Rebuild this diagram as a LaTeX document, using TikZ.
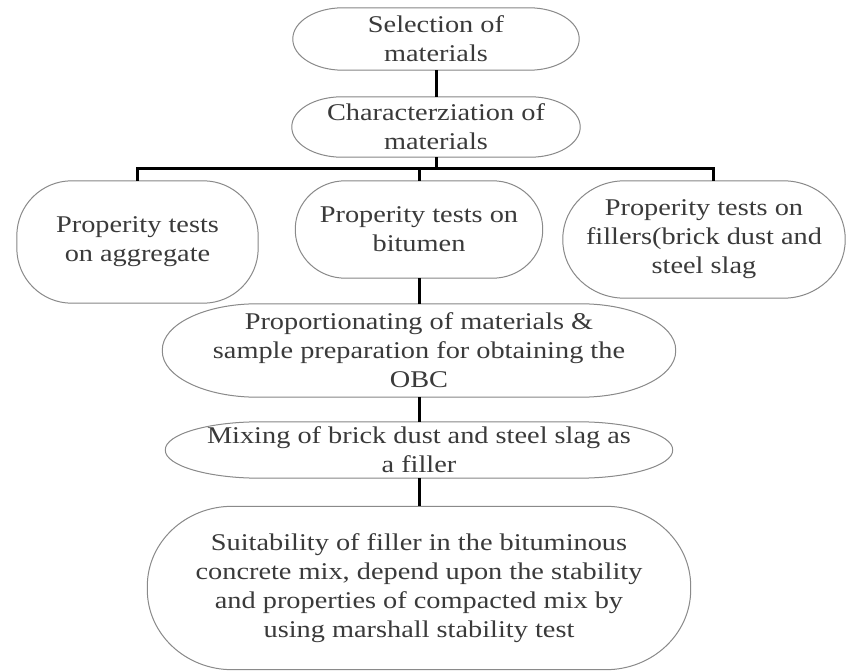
\documentclass[tikz,border=0pt]{standalone}
\usepackage{fontspec}
\setmainfont{Liberation Serif}[FakeStretch=1.18]
\usetikzlibrary{backgrounds}
\definecolor{txt}{HTML}{3A3A3A}
\definecolor{bord}{HTML}{8A8A8A}
\definecolor{shd}{HTML}{B0B0B0}
\tikzset{
  box/.style={inner sep=0pt, align=center, text=txt, font=\fontsize{24}{29}\selectfont},
  conn/.style={line width=3pt, black},
}
% outline path around a node with elliptic corners
\newcommand\outl[3]{([xshift=#2pt]#1.north west) -- ([xshift=-#2pt]#1.north east)
  arc[start angle=90, end angle=0, x radius=#2pt, y radius=#3pt]
  -- ([yshift=#3pt]#1.south east)
  arc[start angle=0, end angle=-90, x radius=#2pt, y radius=#3pt]
  -- ([xshift=#2pt]#1.south west)
  arc[start angle=-90, end angle=-180, x radius=#2pt, y radius=#3pt]
  -- ([yshift=-#3pt]#1.north west)
  arc[start angle=180, end angle=90, x radius=#2pt, y radius=#3pt] -- cycle}
\newcommand\rbox[3]{%
  \fill[shd, shift={(1.5pt,-2pt)}] \outl{#1}{#2}{#3};
  \fill[white] \outl{#1}{#2}{#3};
  \draw[bord, line width=1pt] \outl{#1}{#2}{#3};}
\begin{document}
\begin{tikzpicture}[x=1pt, y=-1pt]
\useasboundingbox (0,0) rectangle (847,671);
\node[box, minimum width=286pt, minimum height=62pt] (n1) at (436,39) {Selection of\\materials};
\node[box, minimum width=288pt, minimum height=60pt] (n2) at (436,127) {Characterziation of\\materials};
\node[box, minimum width=241pt, minimum height=122pt] (n3) at (137.5,242) {Properity tests\\on aggregate};
\node[box, minimum width=247pt, minimum height=97pt] (n4) at (419,229.5) {Properity tests on\\bitumen};
\node[box, minimum width=282pt, minimum height=117pt] (n5) at (704,239.5) {Properity tests on\\fillers(brick dust and\\steel slag};
\node[box, minimum width=513pt, minimum height=93pt] (n6) at (419,350.5) {Proportionating of materials \&\\sample preparation for obtaining the\\OBC};
\node[box, minimum width=507pt, minimum height=56pt] (n7) at (419,450) {Mixing of brick dust and steel slag as\\a filler};
\node[box, minimum width=543pt, minimum height=163pt] (n8) at (419,588) {Suitability of filler in the bituminous\\concrete mix, depend upon the stability\\and properties of compacted mix by\\using marshall stability test};
\begin{scope}[on background layer]
  \rbox{n1}{50}{31}
  \rbox{n2}{50}{30}
  \rbox{n3}{55}{55}
  \rbox{n4}{50}{48}
  \rbox{n5}{62}{58}
  \rbox{n6}{95}{46}
  \rbox{n7}{95}{28}
  \rbox{n8}{85}{80}
\end{scope}
\coordinate (bus) at (0,169);
\coordinate (d5) at (713,181);
\draw[conn] (n1.south) -- (n2.north);
\draw[conn] (n2.south) -- (n2.south |- bus);
\draw[conn] (n3.north) -- (n3.north |- bus) -- (d5 |- bus) -- (d5);
\draw[conn] (n4.north) -- (n4.north |- bus);
\draw[conn] (n4.south) -- (n6.north);
\draw[conn] (n6.south) -- (n7.north);
\draw[conn] (n7.south) -- (n8.north);
\end{tikzpicture}
\end{document}
